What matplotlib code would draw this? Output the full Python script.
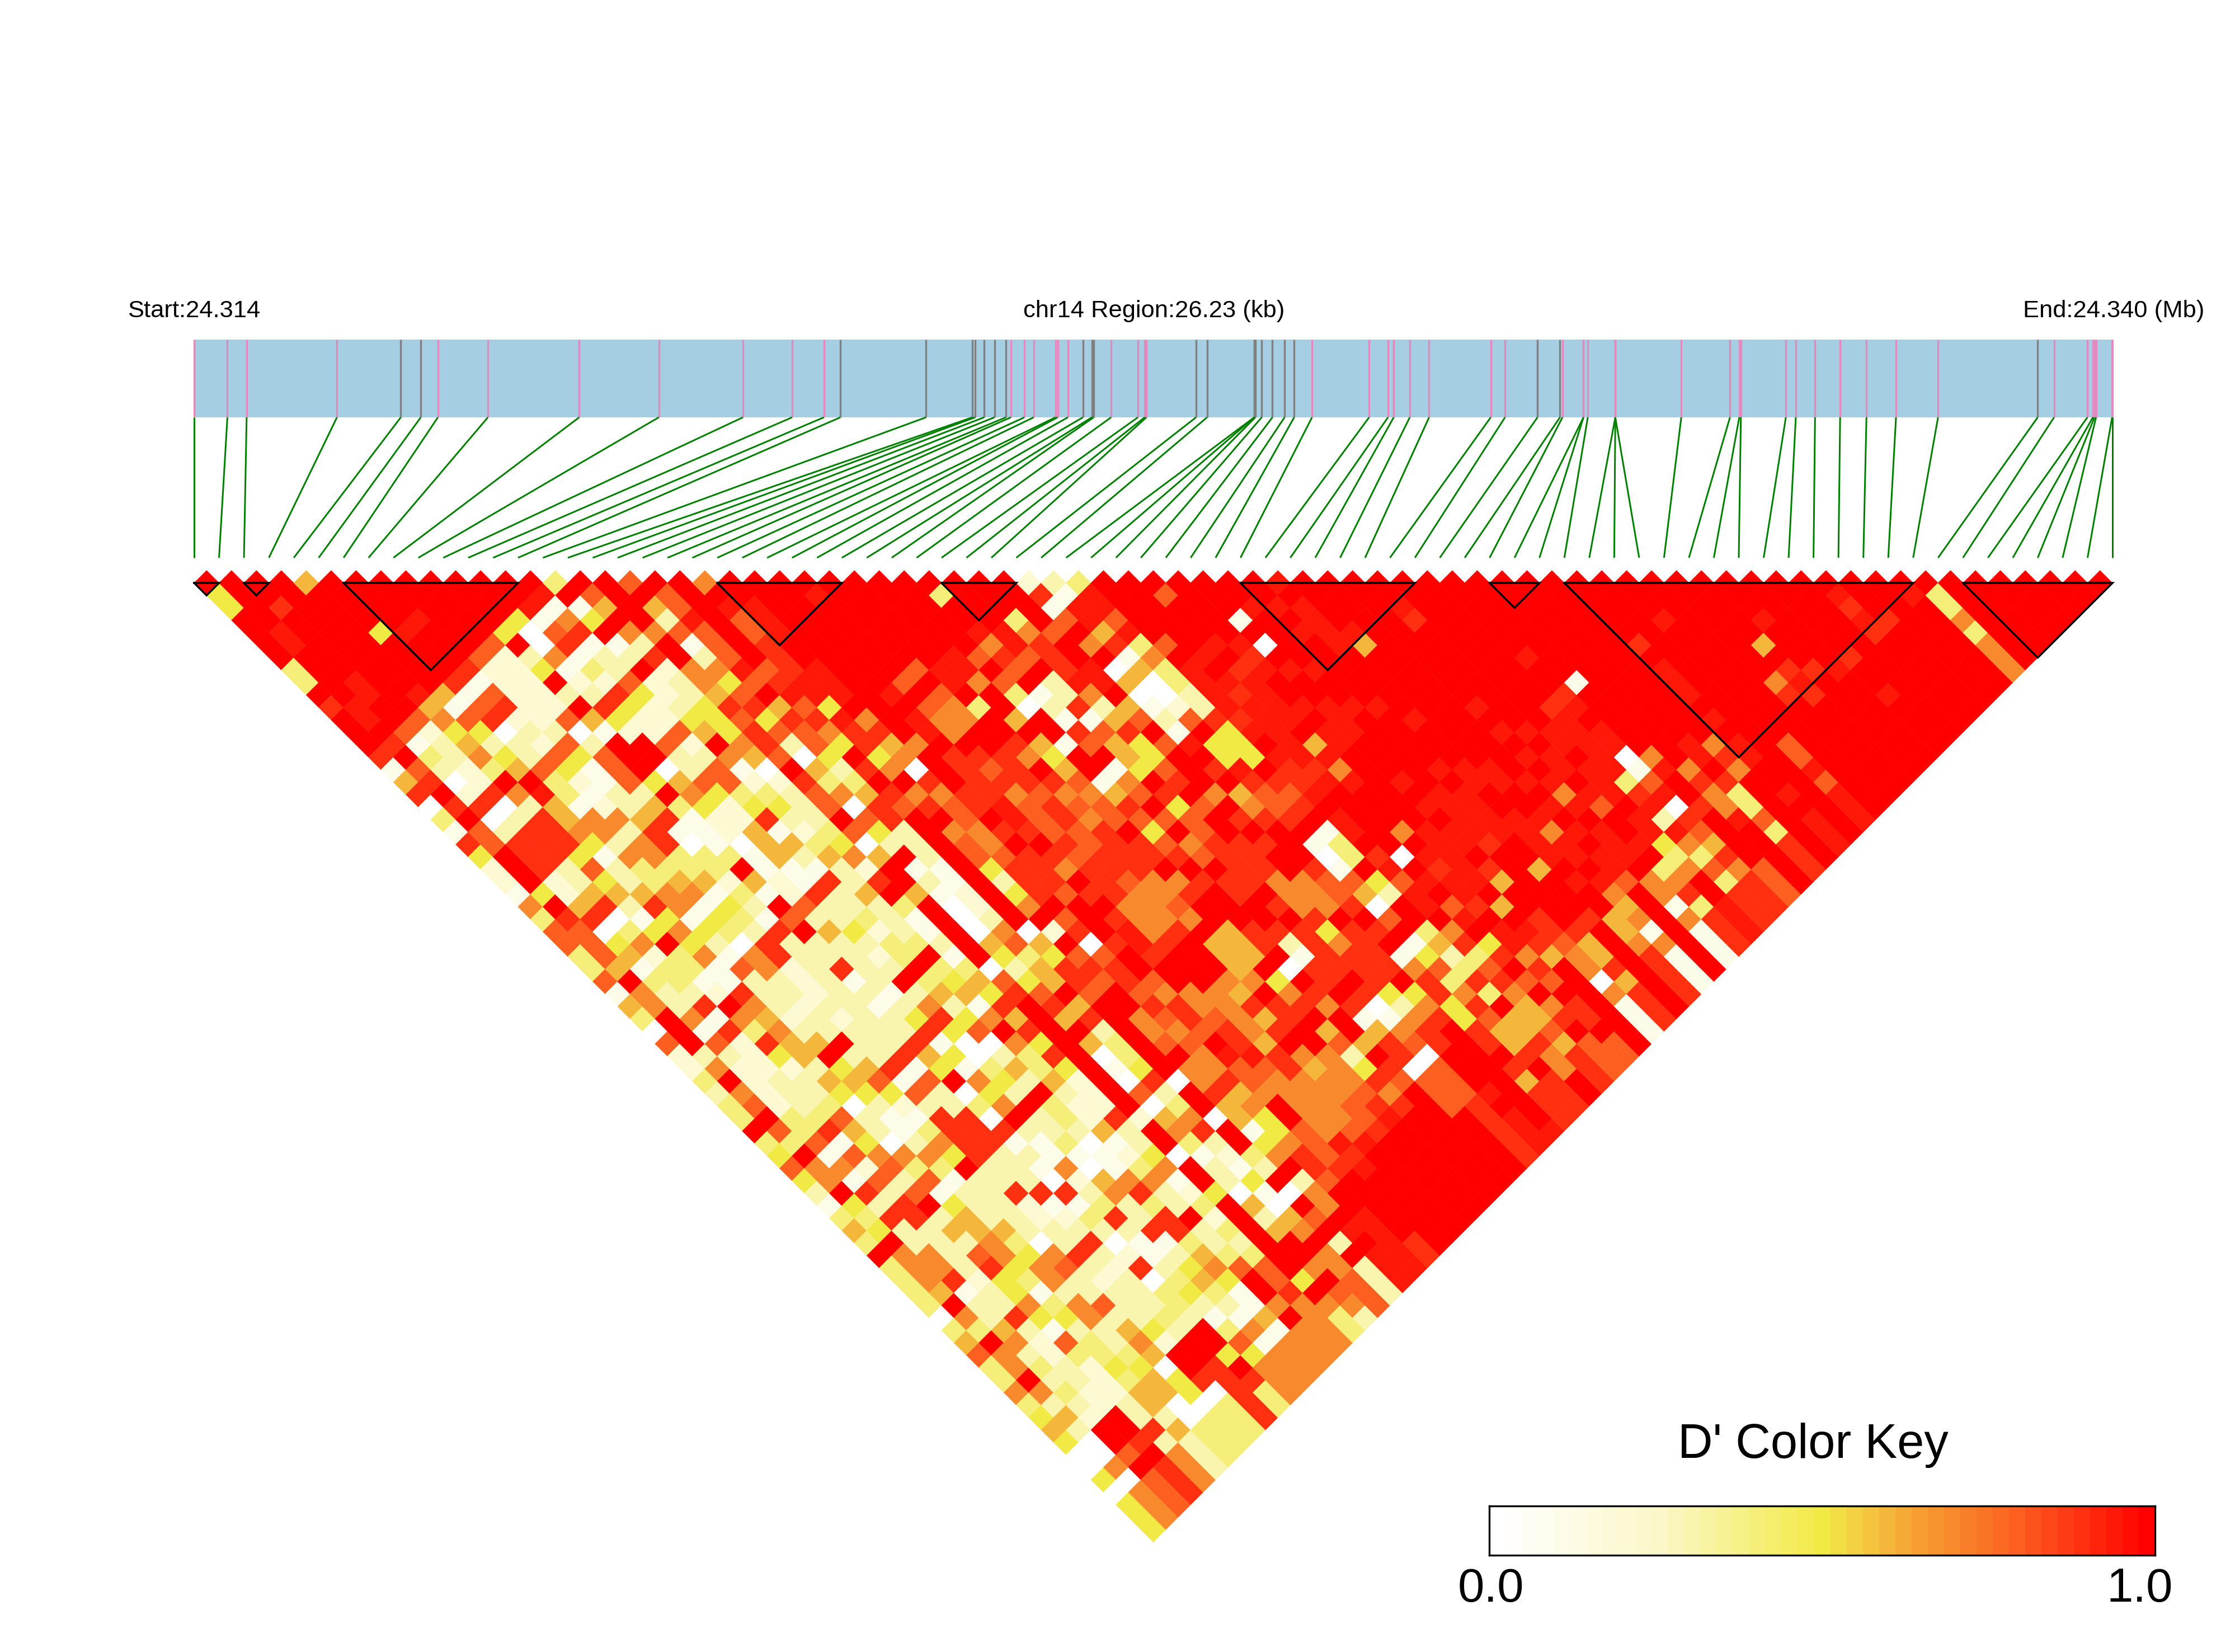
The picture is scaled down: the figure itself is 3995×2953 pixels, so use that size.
import re
import numpy as np
import matplotlib
matplotlib.use("Agg")
import matplotlib.pyplot as plt
from matplotlib.collections import PolyCollection, LineCollection
from matplotlib.colors import LinearSegmentedColormap

plt.rcParams['font.family'] = ['Liberation Sans', 'DejaVu Sans']

START_LABEL = "Start:24.314"
MID_LABEL = "chr14 Region:26.23 (kb)"
END_LABEL = "End:24.340 (Mb)"
KEY_TITLE = "D' Color Key"
KEY_LOW, KEY_HIGH = "0.0", "1.0"
REGION_KB = 26.23

snp_kb = [0.00,0.455,0.718,1.953,2.826,3.099,3.333,4.017,5.265,6.353,
 7.504,8.177,8.611,8.836,10.007,10.641,10.680,10.802,10.943,11.099,
 11.167,11.353,11.480,11.777,11.807,11.948,12.153,12.275,12.300,12.538,
 12.904,12.997,13.021,13.699,13.850,14.495,14.495,14.510,14.597,14.744,
 14.910,15.041,15.285,16.066,16.324,16.402,16.622,16.886,17.729,17.924,
 18.368,18.675,18.710,18.997,18.997,19.056,19.432,19.432,19.432,20.334,
 21.000,21.127,21.149,21.764,21.900,22.163,22.506,22.866,23.270,23.845,
 25.207,25.431,25.887,25.962,25.984,26.005,26.225,26.230]
snp_class = ("ppppggpppp" "pppggggggg" "ppppppgggp" "pppggggggg"
             "ggpppppppp" "ggpppppppp" "pppppppppp" "gppppppp")

blocks = [(0,1),(2,3),(6,13),(21,26),(30,33),(42,49),(52,54),(55,69),(71,77)]

# D' per SNP: one string per first SNP, one letter per distance 1,2,3...
# 0-9 = tenths of D', a = 0.95, b = 0.98, R = 1.0; X{n} repeats X n times
dprime_by_snp = [
"R55RRRR44R 9RRR916904 1952217488 4481640822 4344R45853 1464R44440 4684474565 0050555",
"RRRRaaRRRR aaR9R89R9R 88RRR5R988 86R77RRR37 R78R84R77R 545R7776R7 4R77R73630 070777",
"RR9RRRRRaa RR81430290 3999226905 6143371832 2224481719 3933779133 67343432RR 8R888",
"R{10} R823322903 9993369047 2443919222 3334918283 9933332339 3223322RR9 R999",
"6RRRRRRRRa 675674R739 995856315R 4412R74952 3348657838 R363895575 1842223393 777",
"RRRR5RRRR6 185356Ra66 7513369575 7119767663 6503307481 5667754145 3445466363 33",
"RRRRaRRR91 8903384417 7374477153 18333236R5 6531137413 3364577377 3345660044 4",
"RRRaRRR918 9232852127 3774671540 7733233R36 8521475R33 3330783383 6760550444",
"RRRRRR8222 2238511336 9944615439 9222323339 1839999339 2233932333 52RR90444",
"RRRRR82222 2803888369 1044243193 3333333391 8339993339 1239323334 3RR99999",
"RRRR5R35R3 R61RRR5R41 114R61R8R3 3913133965 R040913109 1430290443 RR5R944",
"RRR5007123 952RR06752 2011228363 3331359151 757R311723 4931134531 485777",
"RRa1891429 5228338522 6661193353 23R3795004 53R3341067 3391356431 71777",
"Ra17913385 2282388459 1631933424 4R46358036 3R44301179 4994675116 1777",
"4R15R13R22 356R712453 2463363334 R45617R744 6322612473 3R3348RR7R 777",
"R86R739233 5557602333 45729R4113 1465969595 2229335712 4243488977 77",
"RRRR7RR776 98998R988R 806RR6RRRR R089RRRRRR RRR2RR0RR5 RRRRRR5R74 4",
"8R63813758 9583064708 53R1310006 535896R601 0806741330 636RR7R873",
"R88a888a8R 6988534699 3331122378 466R693445 9347932151 067R77888",
"RRRRRRR89a 8975R9R98R RRRRRRRR06 5998RRRRRR 0RR0RR43R0 R8R3R333",
"7Ra88999aa 5a9957R79R 7885357R2R 898RR778R7 7966157R37 7RaRaaa",
"RRaaaRRaaa R796709788 778999R890 8998987877 967557998R Raaaaa",
"R{10} RRR7RRR99R 9R9998RRR9 RR87998Ra8 87RR8889RR RRR99",
"RRRRRRRbRa RaaR9999aa 9R97R9R9aa 9RR77899a8 77777a9aRR RRRR",
"RaRRRRRR8R 877R989788 8989997779 RRR7777699 77778aRRRR RRR",
"RRRRRRR8R8 77RR999899 8899877 79R RR76969R76 77889RRRRR RR",
"RRRRRRRaaR 4RR97R9787 99997787R6 667R99RR77 789aRRRRRR R",
"RRRRRRaa7R R6R6568788 R99R79RR66 6R579R6835 979RRRRRRR",
"RRRRRR8R84 0RR1RR1698 589R9RRR99 R0R97RR6R9 8RRRRRRRR",
"R4RRa798R1 3198R178R8 R78R99RR93 199R916990 888RRRRR",
"RRRRaa8R33 918665R958 89999R9R99 99R9017808 8899999",
"RRR47999a7 3695589R8R R999777957 999537 99RR RaRaaa",
"RRRR8RRaaR 68R8RRR7R9 R9RR777R99 99R579RRRR RRRRa",
"2918R7R060 131aR9R679 RRR9889R9R 17995599R9 6999",
"31aa691600 28R55a9889 R1018608R1 584798669R 999",
"4aa8a47443 39555R989R 144R53RR46 3494R66977 RR",
"RRRRR8Raaa a9aRa99aRa aR9a8aaR79 4897668699 9",
"RRRRRRaRa9 aaaaa9aRRR RR0RaR8aR5 9R8R79R888",
"R8RRRaR9aa aaR6a7aRRR 7Ra9aa9Raa 798R99R88",
"RRRRRa9aRR aRaaRRRRRR aaaaaR6Ra9 6RRRRRRR",
"RRR1R0RaRR aaaRRRaRaR aaR96RR998 7707111",
"RRaRRRRaRR aRRRRRRaaa a9RRRRRR96 696999",
"RRaRaRRRRR aRRRRaRaaa aRR6RRR9RR RRRRR",
"aRaaaaRRRR RaRbRaaRRa aaaRaRR667 9999",
"RRRRa6RRRR RRRRRaaRRa 7aaRa76717 111",
"R{10} RRRRRRaRaR aRaa8RRRRR RR",
"R{10} aRaRaRa7aR aaaR771711 1",
"Rba9RRRRRR RRaRaaRa8R RaR4794999",
"R{10} RRaaRaaaRa a547RRaaa",
"R{10} 9aaaaa49a3 a7484999",
"RRRRRRaRR9 aRaa018a09 8697999",
"RRRRRRRR1R RRRR7aRR9R RRR888",
"R{10} RRRRR7977a R{5}",
"R{13}aaR9448499 9",
"R{13}797R{7}",
"RRRRR9RaaaRaRaaRRaRaaa",
"R{21}",
"RRRaR{9}88a8aaa",
"R{19}",
"R{8}79R{8}",
"R{5}6R9a9R{7}",
"RRRaRRR9R{8}",
"R{7}aR{7}",
"R{6}9RRaR{4}",
"R{13}",
"Ra9a9R{7}",
"RRR9R{7}",
"R{10}",
"RaR{7}",
"R4474777",
"R{7}", "R{6}", "R{5}", "R{4}", "R{3}", "R{2}", "R",
]

level = {str(d): d / 10 for d in range(10)}
level.update({'a': 0.95, 'b': 0.98, 'R': 1.0})

key_stops = [(0.0, '#FFFFFF'), (0.25, '#FBF7C8'), (0.5, '#F1EA45'), (0.56, '#F3CC42'),
             (0.64, '#F6A233'), (0.8, '#FC5F20'), (1.0, '#FF0000')]
cmap = LinearSegmentedColormap.from_list('dprime', key_stops, N=41)

def expand(s):
    s = s.replace(' ', '')
    out = []
    for m in re.finditer(r'(.)(?:\{(\d+)\})?', s):
        out += [m.group(1)] * int(m.group(2) or 1)
    return out

W, H = 3995, 2953
DPI = 300
fig = plt.figure(figsize=(W / DPI, H / DPI), dpi=DPI)
ax = fig.add_axes([0, 0, 1, 1])
ax.set_xlim(0, W); ax.set_ylim(H, 0); ax.axis('off')

n = len(snp_kb)
X0, X1 = 347.0, 3776.0
step = (X1 - X0) / (n - 1)
half = step / 2
Y_TOP = 1042.0
BAND_T, BAND_B, LINK_B = 607.0, 746.0, 997.0

# LD triangle
polys, vals = [], []
for a, row in enumerate(dprime_by_snp):
    cells = expand(row)
    need = n - 1 - a
    cells = (cells + [cells[-1]] * need)[:need]
    for d, c in enumerate(cells, start=1):
        cx = X0 + step * (a + d / 2)
        cy = Y_TOP + half * (d - 1)
        polys.append([(cx - half, cy), (cx, cy - half), (cx + half, cy), (cx, cy + half)])
        vals.append(level[c])
pc = PolyCollection(polys, array=np.array(vals), cmap=cmap, clim=(0, 1),
                    edgecolors='face', linewidths=0.15, antialiaseds=True)
ax.add_collection(pc)

# blocks
for s, e in blocks:
    xs, xe = X0 + step * s, X0 + step * e
    ax.plot([xs, xe, (xs + xe) / 2, xs], [Y_TOP, Y_TOP, Y_TOP + (xe - xs) / 2, Y_TOP],
            color='black', lw=0.85, solid_joinstyle='miter', zorder=3)

# gene band and SNP ticks
ax.fill_between([X0, X1], BAND_T, BAND_B, color='#A6CEE3', lw=0, zorder=1)
tick_x = [X0 + (X1 - X0) * k / REGION_KB for k in snp_kb]
for x, c in zip(tick_x, snp_class):
    ax.plot([x, x], [BAND_T, BAND_B], color='#E289BE' if c == 'p' else '#808080',
            lw=0.8, solid_capstyle='butt', zorder=2)

segs = [[(x, BAND_B), (X0 + step * i, LINK_B)] for i, x in enumerate(tick_x)]
ax.add_collection(LineCollection(segs, colors='#008000', linewidths=0.72, zorder=2))

ax.text(347, 556, START_LABEL, ha='center', va='center', fontsize=10.45)
ax.text(2063, 556, MID_LABEL, ha='center', va='center', fontsize=10.45)
ax.text(3778, 556, END_LABEL, ha='center', va='center', fontsize=10.45)

# colour key
KX0, KX1, KY0, KY1 = 2662.0, 3852.0, 2692.0, 2780.0
kax = fig.add_axes([KX0 / W, 1 - KY1 / H, (KX1 - KX0) / W, (KY1 - KY0) / H])
kax.pcolormesh(np.linspace(0, 1, 42), [0, 1], (np.arange(41) / 40)[None, :],
               cmap=cmap, vmin=0, vmax=1)
kax.set_xticks([]); kax.set_yticks([])
for sp in kax.spines.values():
    sp.set_linewidth(0.8)
ax.text(3241, 2584, KEY_TITLE, ha='center', va='center', fontsize=20.8)
ax.text(2665, 2841, KEY_LOW, ha='center', va='center', fontsize=20.5)
ax.text(3825, 2841, KEY_HIGH, ha='center', va='center', fontsize=20.5)

fig.savefig('out.png', dpi=DPI)
